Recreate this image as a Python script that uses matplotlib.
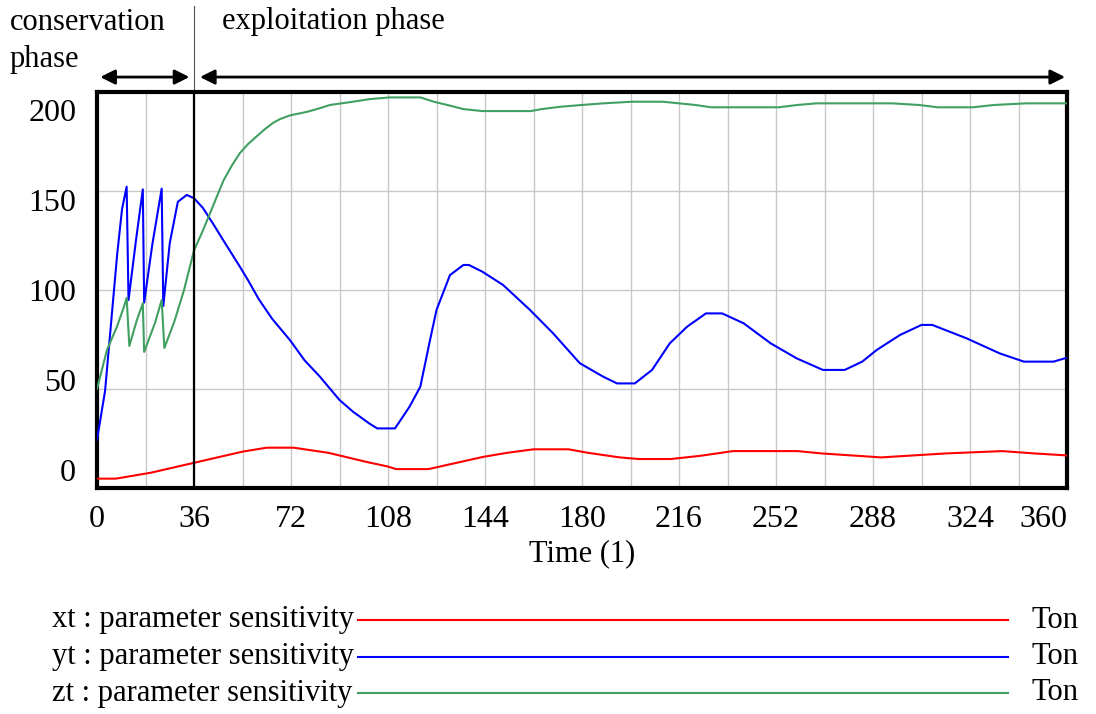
import matplotlib
matplotlib.use("Agg")
import matplotlib.pyplot as plt
from matplotlib.lines import Line2D
import numpy as np

plt.rcParams['font.family'] = ['Liberation Serif', 'DejaVu Serif']
plt.rcParams['font.size'] = 22

## data (Ton vs time) ##
t_x = [0, 7, 20, 36, 54, 63, 73, 86, 100, 108, 111, 123, 135, 143, 152, 162, 175, 182, 194,
       201, 213, 224, 236, 260, 269, 280, 291, 303, 315, 336, 348, 360]
xt = [-4.8, -4.8, -1.5, 4.0, 10.2, 12.4, 12.4, 9.5, 4.5, 1.9, 0.5, 0.5, 4.5, 7.2, 9.5, 11.5, 11.5,
      9.6, 7.0, 6.1, 6.1, 7.9, 10.5, 10.5, 9.2, 8.1, 7.0, 8.1, 9.2, 10.5, 9.2, 8.1]

t_y = [0, 3, 5.6, 7.5, 9.3, 11, 11.7, 14.5, 17, 17.5, 20.5, 24, 24.6, 27, 30, 33.3, 36, 39.3, 43,
       46.8, 53, 56, 60, 65, 71.6, 77, 82.7, 90, 95, 101, 104, 110.6, 116, 120, 123.6, 126, 131,
       136, 138, 143, 150.7, 160.7, 169.3, 179.2, 187.8, 193, 199.6, 206, 212.6, 219, 226, 232,
       240, 250, 259.7, 269.4, 277.5, 284, 289.4, 298, 306, 310, 322.8, 335, 344, 355, 360]
yt = [16.7, 44, 88, 120, 145, 157.4, 94.4, 128, 155.9, 93.0, 125, 156.3, 91.1, 126, 149, 152.8,
      151, 145.6, 137, 127.8, 113, 105.6, 95, 84, 72.2, 61, 51.9, 38.9, 32.4, 25.9, 23.1, 23.1,
      35.2, 46.3, 72.2, 88.9, 108.3, 113.9, 113.9, 110.2, 102.8, 88.9, 75.9, 59.3, 51.9, 48.1,
      48.1, 55.6, 70.4, 79.6, 87.0, 87.0, 81.5, 70.4, 62.0, 55.6, 55.6, 60.2, 66.7, 75.0, 80.6,
      80.6, 73.1, 64.8, 60.2, 60.2, 62.4]

t_z = [0, 3.7, 7.4, 10, 11, 12, 14.8, 17, 17.5, 21.5, 24, 25, 28.6, 32.3, 36, 39, 42, 44.5, 47,
       50, 53, 56, 59, 62, 65.5, 68, 71.6, 78, 82.7, 86.5, 95, 101, 108.7, 120, 125, 130, 136,
       143, 161, 165, 172, 180, 188, 198.6, 210, 216, 222, 228, 253, 260, 267, 295, 305, 312,
       325, 333, 345, 360]
zt = [45, 66.7, 79.6, 90.7, 95.6, 68.9, 83.3, 92.6, 65.6, 81.6, 94.4, 67.8, 82, 100, 122, 132,
      142.8, 152, 161, 169, 176, 181, 185, 189, 193, 195, 197, 199, 201, 202.8, 204.6, 206, 207,
      207, 204.6, 202.8, 200.5, 199.4, 199.4, 200.5, 201.8, 202.8, 203.7, 204.6, 204.6, 203.7,
      202.8, 201.5, 201.5, 202.8, 203.7, 203.7, 202.8, 201.5, 201.5, 202.8, 203.7, 203.7]

x_ticks = [0, 36, 72, 108, 144, 180, 216, 252, 288, 324, 360]
y_ticks = [0, 50, 100, 150, 200]
series_names = ["xt : parameter sensitivity", "yt : parameter sensitivity", "zt : parameter sensitivity"]
colors = ["#ff0000", "#0000ff", "#40a062"]

fig = plt.figure(figsize=(10.96, 7.14), dpi=100)
ax = fig.add_axes([97/1096, 1 - 488/714, (1067-97)/1096, (488-92)/714])

# grid (vensim style: every 18 on x, fixed lines on y)
for g in np.arange(18, 360, 18):
    ax.axvline(g, color="#c8c8c8", lw=1.0, zorder=0)
for g in [45, 100, 155]:
    ax.axhline(g, color="#c8c8c8", lw=1.0, zorder=0)

ax.plot(t_x, xt, color=colors[0], lw=1.5, zorder=3)
ax.plot(t_y, yt, color=colors[1], lw=1.5, zorder=3)
ax.plot(t_z, zt, color=colors[2], lw=1.5, zorder=3)

ax.axvline(36, color="black", lw=1.6, zorder=4)

ax.set_xlim(0, 360)
ax.set_ylim(-10, 210)
ax.set_xticks(x_ticks)
ax.set_yticks(y_ticks)
ax.tick_params(length=0, pad=12, labelsize=23)
ax.tick_params(axis="y", pad=15)
ax.get_xticklabels()[-1].set_horizontalalignment("right")
ax.get_xticklabels()[-1].set_x(1.0)
for s in ax.spines.values():
    s.set_linewidth(3)
ax.set_xlabel("Time (1)", labelpad=4)

# phase annotations above plot
ax.plot([36, 36], [210, 258], color="#555555", lw=0.8, clip_on=False)
ax.annotate("", xy=(1.2, 218.3), xytext=(34.3, 218.3), annotation_clip=False,
            arrowprops=dict(arrowstyle="<|-|>", color="black", lw=2, mutation_scale=22,
                            shrinkA=0, shrinkB=0))
ax.annotate("", xy=(38.2, 218.3), xytext=(359.3, 218.3), annotation_clip=False,
            arrowprops=dict(arrowstyle="<|-|>", color="black", lw=2, mutation_scale=22,
                            shrinkA=0, shrinkB=0))
fig.text(10/1096, 1 - 22/714, "conservation", ha="left", va="center")
fig.text(10/1096, 1 - 60/714, "phase", ha="left", va="center")
fig.text(222/1096, 1 - 22/714, "exploitation phase", ha="left", va="center")

# vensim-like legend
for i, (name, c) in enumerate(zip(series_names, colors)):
    yy = 1 - (620 + 36.5*i)/714
    fig.text(52/1096, yy, name, ha="left", va="center")
    fig.add_artist(Line2D([358/1096, 1008/1096], [yy, yy], color=c, lw=1.5,
                          transform=fig.transFigure))
    fig.text(1032/1096, yy, "Ton", ha="left", va="center")

fig.savefig("out.png", dpi=100)
